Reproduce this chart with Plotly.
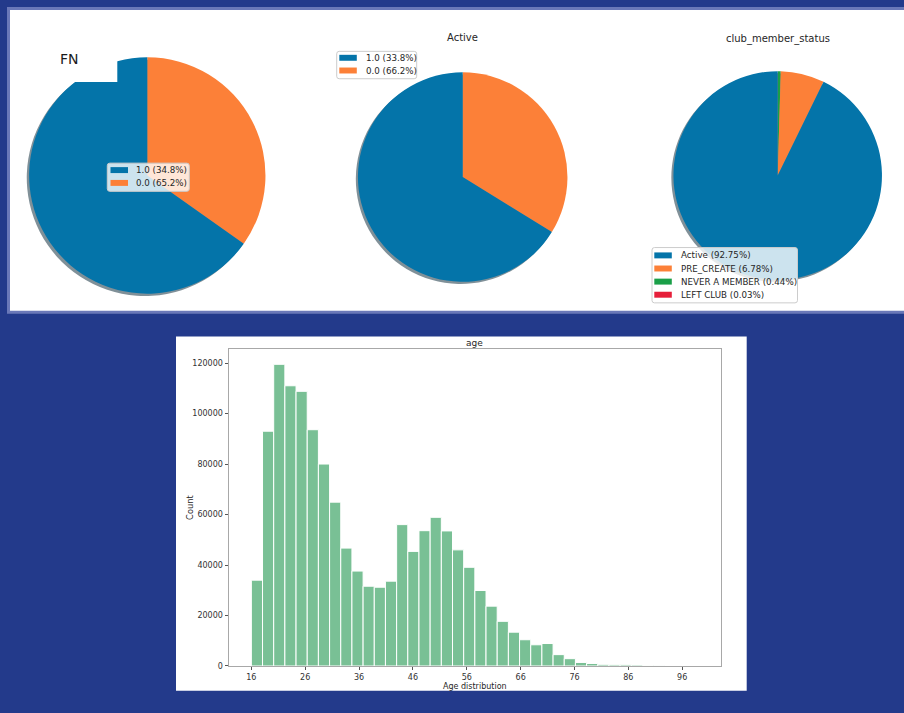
import numpy as np
import plotly.graph_objects as go

W, H = 904, 713

# ---------------- data ----------------
fn_categories = ["1.0", "0.0"]
fn_shares = [34.8, 65.2]

active_categories = ["1.0", "0.0"]
active_shares = [33.8, 66.2]

club_categories = ["Active", "PRE_CREATE", "NEVER A MEMBER", "LEFT CLUB"]
club_shares = [92.75, 6.78, 0.44, 0.03]

age_min, age_max, age_bins = 16, 99, 40
age_counts = [34000, 93000, 119500, 111000, 108800, 93600, 80000, 64900, 46700, 37600,
              31600, 31200, 33600, 56000, 45400, 53600, 58900, 53500, 46000, 39100,
              29900, 23700, 17700, 13400, 10400, 8400, 8900, 4500, 2900, 1400,
              1000, 650, 500, 500, 400, 150, 80, 40, 20, 30]
age_ticks = [16, 26, 36, 46, 56, 66, 76, 86, 96]
count_ticks = [0, 20000, 40000, 60000, 80000, 100000, 120000]

# ---------------- style ----------------
PALETTE = ["#0474a9", "#fc8038", "#1a9f48", "#e61f3a"]
BG_BLUE = "#233a8b"
BAR_GREEN = "#79c095"
FONT = "DejaVu Sans"
TXT = "#262626"


def X(px):
    return px / W


def Y(py):
    return 1 - py / H


def hex_rgb(h):
    h = h.lstrip("#")
    return tuple(int(h[i:i + 2], 16) for i in (0, 2, 4))


def shadow_color(h):
    r, g, b = hex_rgb(h)
    return f"rgba({int(r * 0.3)},{int(g * 0.3)},{int(b * 0.3)},0.5)"


def pie_domain(cx, cy, r):
    return dict(x=[X(cx - r), X(cx + r)], y=[Y(cy + r), Y(cy - r)])


fig = go.Figure()
shapes = []
annotations = []


def add_pie(shares, cx, cy, r):
    # wedges follow value_counts order (largest first), colours in wedge order,
    # laid out anticlockwise from 12 o'clock (drawn here as the reversed list clockwise)
    order = sorted(range(len(shares)), key=lambda i: -shares[i])
    vals = [shares[i] for i in order][::-1]
    cols = PALETTE[:len(vals)][::-1]
    off = 0.02 * r
    common = dict(values=vals, sort=False, direction="clockwise", rotation=0,
                  textinfo="none", showlegend=False)
    fig.add_trace(go.Pie(marker=dict(colors=[shadow_color(c) for c in cols], line=dict(width=0)),
                         hoverinfo="skip", domain=pie_domain(cx - off, cy + off, r), **common))
    fig.add_trace(go.Pie(marker=dict(colors=cols, line=dict(width=0)),
                         domain=pie_domain(cx, cy, r), **common))


def rounded_rect(x0, y0, x1, y1, rad):
    p = [("M", (x0 + rad, y0)), ("L", (x1 - rad, y0)), ("Q", (x1, y0), (x1, y0 + rad)),
         ("L", (x1, y1 - rad)), ("Q", (x1, y1), (x1 - rad, y1)), ("L", (x0 + rad, y1)),
         ("Q", (x0, y1), (x0, y1 - rad)), ("L", (x0, y0 + rad)), ("Q", (x0, y0), (x0 + rad, y0))]
    s = ""
    for cmd, *pts in p:
        s += cmd + " ".join(f"{X(a):.5f},{Y(b):.5f}" for a, b in pts) + " "
    return s + "Z"


def add_legend(labels, box, rows, sw_x0, text_x):
    x0, y0, x1, y1 = box
    shapes.append(dict(type="path", xref="paper", yref="paper", layer="above",
                       path=rounded_rect(x0, y0, x1, y1, 2.5),
                       fillcolor="rgba(255,255,255,0.8)", line=dict(color="#cccccc", width=1)))
    for k, (lab, ry) in enumerate(zip(labels, rows)):
        shapes.append(dict(type="rect", xref="paper", yref="paper", layer="above",
                           x0=X(sw_x0), x1=X(sw_x0 + 17.5), y0=Y(ry + 3), y1=Y(ry - 3),
                           fillcolor=PALETTE[k], line=dict(width=0)))
        annotations.append(dict(text=lab, x=X(text_x), y=Y(ry), xref="paper", yref="paper",
                                xanchor="left", yanchor="middle", showarrow=False,
                                font=dict(family=FONT, size=8.7, color=TXT)))


def legend_labels(cats, shares, fmt):
    return [f"{c} ({fmt.format(s)}%)" for c, s in zip(cats, shares)]


# ---------------- panels ----------------
shapes.append(dict(type="rect", xref="paper", yref="paper", layer="below",
                   x0=X(8.5), x1=X(910), y0=Y(314.5), y1=Y(8.5),
                   fillcolor="white", line=dict(color="#6a78b8", width=3)))
shapes.append(dict(type="rect", xref="paper", yref="paper", layer="below",
                   x0=X(176), x1=X(746.7), y0=Y(695.7), y1=Y(339),
                   fillcolor="white", line=dict(width=0)))

# ---------------- pies ----------------
add_pie(fn_shares, 147.3, 176.7, 119)
add_pie(active_shares, 462.7, 178.3, 105.5)
add_pie(club_shares, 777.7, 176.7, 105)

# FN heading sits on its own white block over the first pie
shapes.append(dict(type="rect", xref="paper", yref="paper", layer="above",
                   x0=X(26), x1=X(117.3), y0=Y(82.7), y1=Y(50),
                   fillcolor="white", line=dict(width=0)))
annotations.append(dict(text="FN", x=X(69.3), y=Y(59.5), xref="paper", yref="paper",
                        xanchor="center", yanchor="middle", showarrow=False,
                        font=dict(family=FONT, size=14, color="#1a1a1a")))
annotations.append(dict(text="Active", x=X(462.7), y=Y(37.7), xref="paper", yref="paper",
                        xanchor="center", yanchor="middle", showarrow=False,
                        font=dict(family=FONT, size=10, color=TXT)))
annotations.append(dict(text="club_member_status", x=X(778), y=Y(39), xref="paper", yref="paper",
                        xanchor="center", yanchor="middle", showarrow=False,
                        font=dict(family=FONT, size=10, color=TXT)))

add_legend(legend_labels(fn_categories, fn_shares, "{:.1f}"),
           (107.3, 164.3, 189.3, 192.7), [171.3, 184.2], 110.5, 134.3)
add_legend(legend_labels(active_categories, active_shares, "{:.1f}"),
           (336.7, 51.7, 416.7, 79.3), [58.2, 71.0], 339.3, 364)
add_legend(legend_labels(club_categories, club_shares, "{:.2f}"),
           (652, 249.3, 797.5, 305), [257.2, 270.4, 283.6, 296.8], 654.3, 678.5)

# ---------------- histogram ----------------
edges = np.linspace(age_min, age_max, age_bins + 1)
centers = (edges[:-1] + edges[1:]) / 2
bin_w = edges[1] - edges[0]
fig.add_trace(go.Bar(x=centers, y=age_counts, width=bin_w,
                     marker=dict(color=BAR_GREEN, line=dict(color="white", width=1)),
                     showlegend=False, xaxis="x", yaxis="y"))

pad = 0.05 * (age_max - age_min)
axis_common = dict(showgrid=False, zeroline=False, showline=True, mirror=True,
                   linecolor="#a8a8a8", linewidth=1, ticks="outside", ticklen=3.5,
                   tickcolor="#555555", tickfont=dict(family=FONT, size=8, color="#333333"))
fig.update_layout(
    xaxis=dict(domain=[X(229), X(720.7)], range=[age_min - pad, age_max + pad],
               tickmode="array", tickvals=age_ticks, **axis_common),
    yaxis=dict(domain=[Y(670.7), Y(351.7)], range=[0, max(age_counts) * 1.05],
               tickmode="array", tickvals=count_ticks, tickformat="d", **axis_common),
)
annotations.append(dict(text="age", x=X(474.9), y=Y(345), xref="paper", yref="paper",
                        xanchor="center", yanchor="middle", showarrow=False,
                        font=dict(family=FONT, size=9, color=TXT)))
annotations.append(dict(text="Age distribution", x=X(474.9), y=Y(691), xref="paper", yref="paper",
                        xanchor="center", yanchor="middle", showarrow=False,
                        font=dict(family=FONT, size=8, color=TXT)))
annotations.append(dict(text="Count", x=X(189.3), y=Y(511.2), xref="paper", yref="paper",
                        xanchor="center", yanchor="middle", showarrow=False, textangle=-90,
                        font=dict(family=FONT, size=8.3, color=TXT)))

fig.update_layout(
    width=W, height=H, margin=dict(l=0, r=0, t=0, b=0),
    paper_bgcolor=BG_BLUE, plot_bgcolor="white",
    shapes=shapes, annotations=annotations, showlegend=False,
    font=dict(family=FONT),
)

fig.write_html("out.html")
